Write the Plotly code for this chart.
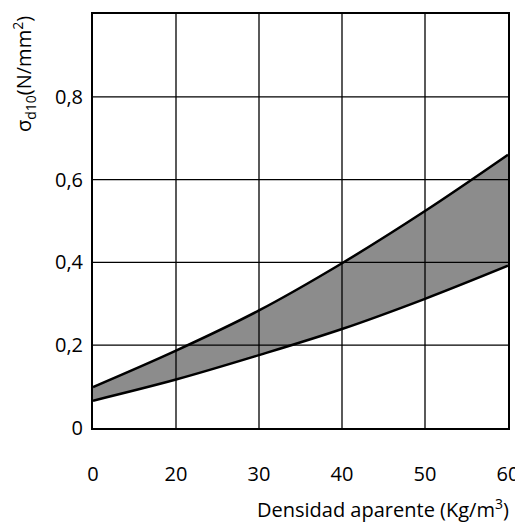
import plotly.graph_objects as go

density_labels = ["0", "20", "30", "40", "50", "60"]
x_pos = [0, 1, 2, 3, 4, 5]
upper = [0.099, 0.187, 0.284, 0.398, 0.524, 0.660]
lower = [0.066, 0.117, 0.176, 0.239, 0.312, 0.392]
y_ticks = [0, 0.2, 0.4, 0.6, 0.8]
y_labels = ["0", "0,2", "0,4", "0,6", "0,8"]

FONT = "Open Sans"

fig = go.Figure()
fig.add_trace(go.Scatter(x=x_pos, y=lower, mode="lines",
                         line=dict(color="black", width=2.5, shape="spline"),
                         showlegend=False, hoverinfo="skip"))
fig.add_trace(go.Scatter(x=x_pos, y=upper, mode="lines", fill="tonexty",
                         fillcolor="#8c8c8c",
                         line=dict(color="black", width=2.5, shape="spline"),
                         showlegend=False, hoverinfo="skip"))

shapes = []
for xv in x_pos[1:-1]:
    shapes.append(dict(type="line", xref="x", yref="paper", x0=xv, x1=xv, y0=0, y1=1,
                       line=dict(color="black", width=1.3), layer="above"))
for yv in y_ticks[1:]:
    shapes.append(dict(type="line", xref="paper", yref="y", x0=0, x1=1, y0=yv, y1=yv,
                       line=dict(color="black", width=1.3), layer="above"))

# page body has an 8px margin; compensate so the chart sits like the reference
fig.update_layout(
    width=515, height=514,
    margin=dict(l=85, r=14, t=4, b=94),
    paper_bgcolor="white", plot_bgcolor="white",
    font=dict(family=FONT, size=20, color="black"),
    shapes=shapes,
    xaxis=dict(range=[0, 5], tickvals=x_pos, ticktext=density_labels,
               showgrid=False, zeroline=False, showline=True, mirror=True,
               linecolor="black", linewidth=2, ticks="", ticklabelstandoff=27,
               fixedrange=True),
    yaxis=dict(range=[0, 1.0], tickvals=y_ticks, ticktext=y_labels,
               showgrid=False, zeroline=False, showline=True, mirror=True,
               linecolor="black", linewidth=2, ticks="", ticklabelstandoff=4,
               fixedrange=True),
    annotations=[
        dict(text="Densidad aparente (Kg/m<sup>3</sup>)", xref="paper", yref="paper",
             x=1.0, y=0, xanchor="right", yanchor="middle", xshift=3, yshift=-80,
             showarrow=False, font=dict(family=FONT, size=20)),
        dict(text="σ<sub>d10</sub>(N/mm<sup>2</sup>)", xref="paper", yref="paper",
             x=0, y=1, xanchor="center", yanchor="top", xshift=-69, yshift=0,
             textangle=-90, showarrow=False, font=dict(family=FONT, size=20)),
    ],
)

fig.write_html("out.html")
